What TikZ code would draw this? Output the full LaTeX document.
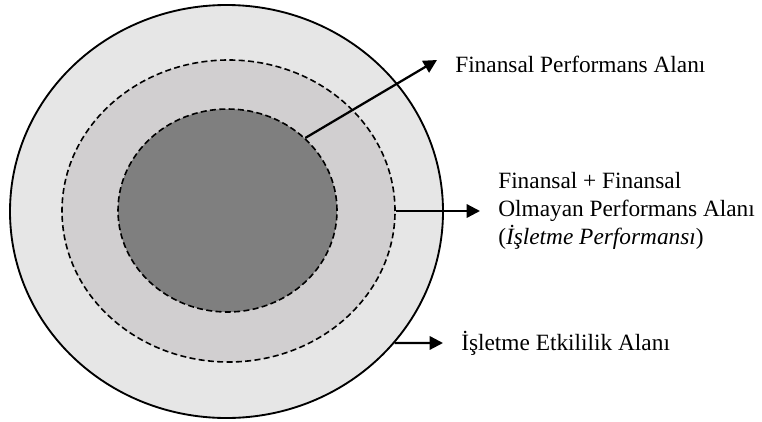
\documentclass[tikz,border=0pt]{standalone}
\usepackage{fontspec}
\setmainfont{Liberation Serif}
\usetikzlibrary{positioning, arrows.meta, shapes.geometric}
\definecolor{ringout}{HTML}{E6E6E6}
\definecolor{ringmid}{HTML}{D1CFD0}
\definecolor{ringin}{HTML}{7F7F7F}

\begin{document}
\begin{tikzpicture}[
    x=0.75pt, y=-0.75pt,
    node distance=13.5pt,
    zone/.style={ellipse, inner sep=0pt, draw=black},
    dashzone/.style={zone, line width=1.2pt, dash pattern=on 4.5pt off 2.5pt},
    lbl/.style={inner sep=0pt, align=left, font=\fontsize{17.5}{21}\selectfont},
    arr/.style={line width=1.7pt, -{Triangle[length=10pt, width=10pt]}}
  ]
  \useasboundingbox (0,0) rectangle (762,421);

  % rings
  \node[zone, line width=1.4pt, fill=ringout, minimum width=324.75pt, minimum height=309.75pt] (outer) at (226.5,211.5) {};
  \node[dashzone, fill=ringmid, minimum width=249.75pt, minimum height=226.5pt] (middle) at (228.5,211) {};
  \node[dashzone, fill=ringin, minimum width=164.25pt, minimum height=152.25pt] (inner) at (227.5,210.5) {};

  % arrow ends
  \coordinate (tipA) at (437,60);
  \coordinate (tipB) at (480,211);
  \coordinate (tipC) at (443,343);

  \node[lbl, right=of tipA, yshift=-3pt] (finlbl) {Finansal Performans Alanı};
  \node[lbl, right=of tipB] (perflbl) {Finansal + Finansal\\Olmayan Performans Alanı\\(\textit{İşletme Performansı})};
  \node[lbl, right=of tipC] (etklbl) {İşletme Etkililik Alanı};

  \draw[arr] (inner.43) -- (tipA);
  \draw[arr] (middle.east) -- (tipB);
  \draw[arr] (outer.-38) -- (tipC);
\end{tikzpicture}
\end{document}
